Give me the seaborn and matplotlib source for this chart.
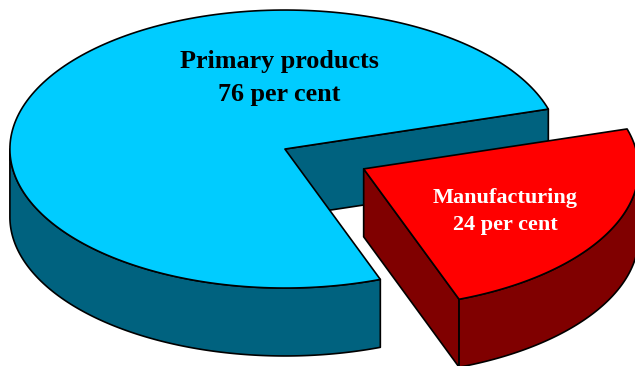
import numpy as np
import matplotlib
matplotlib.use("Agg")
import matplotlib.pyplot as plt
import seaborn as sns
from matplotlib.patches import Polygon

# ---- data ----
categories = ["Primary products", "Manufacturing"]
shares = [76, 24]
labels = ["Primary products\n76 per cent", "Manufacturing\n24 per cent"]
top_colors = ["#00CCFF", "#FF0000"]
side_colors = ["#00627F", "#800000"]
text_colors = ["black", "white"]
explode = [0.0, 0.32]
# label line positions (x, baseline of each line) in pie units
label_x = [-0.02, 0.80]
label_lines_y = [(0.2935, 0.1756), (-0.1975, -0.2945)]
label_size = [18.8, 16]

sns.set_theme(style="white")
plt.rcParams['font.family'] = ['Liberation Serif', 'DejaVu Serif']

START = 16.7      # degrees, first slice starts here (counter-clockwise)
TILT = 0.5055     # vertical squash of the top ellipse
DEPTH = 0.247     # thickness of the pie
LW = 1.2

fig = plt.figure(figsize=(6.35, 3.66), dpi=100)
ax = fig.add_axes([0, 0, 1, 1])
ax.set_xlim(-1.036, 1.273)
ax.set_ylim(-0.789, 0.542)
ax.axis('off')


def pt(cx, cy, t, dz=0.0):
    return (cx + np.cos(t), cy + TILT * np.sin(t) - dz)


def arc(cx, cy, t1, t2, dz=0.0, n=200):
    ts = np.linspace(t1, t2, n)
    return [pt(cx, cy, t, dz) for t in ts]


def visible_ranges(t1, t2):
    out = []
    for lo, hi in [(-np.pi, 0), (np.pi, 2 * np.pi), (3 * np.pi, 4 * np.pi)]:
        a, b = max(t1, lo), min(t2, hi)
        if b > a:
            out.append((a, b))
    return out


total = float(sum(shares))
angle = np.deg2rad(START)
for i, share in enumerate(shares):
    span = 2 * np.pi * share / total
    t1, t2 = angle, angle + span
    angle = t2
    mid = (t1 + t2) / 2
    cx = explode[i] * np.cos(mid)
    cy = explode[i] * TILT * np.sin(mid)
    kw = dict(edgecolor="black", linewidth=LW, joinstyle="round")

    # radial faces
    if np.cos(t1) > 0:
        face = [(cx, cy), pt(cx, cy, t1), pt(cx, cy, t1, DEPTH), (cx, cy - DEPTH)]
        ax.add_patch(Polygon(face, closed=True, facecolor=side_colors[i], **kw))
    if np.cos(t2) < 0:
        face = [(cx, cy), pt(cx, cy, t2), pt(cx, cy, t2, DEPTH), (cx, cy - DEPTH)]
        ax.add_patch(Polygon(face, closed=True, facecolor=side_colors[i], **kw))

    # outer wall
    for a, b in visible_ranges(t1, t2):
        wall = arc(cx, cy, a, b) + arc(cx, cy, b, a, DEPTH)
        ax.add_patch(Polygon(wall, closed=True, facecolor=side_colors[i], **kw))

    # top face
    top = [(cx, cy)] + arc(cx, cy, t1, t2)
    ax.add_patch(Polygon(top, closed=True, facecolor=top_colors[i], **kw))

    for line, ly in zip(labels[i].split("\n"), label_lines_y[i]):
        ax.text(label_x[i], ly, line, ha="center", va="baseline",
                color=text_colors[i], fontsize=label_size[i], fontweight="bold")

fig.savefig("out.png", dpi=100)
